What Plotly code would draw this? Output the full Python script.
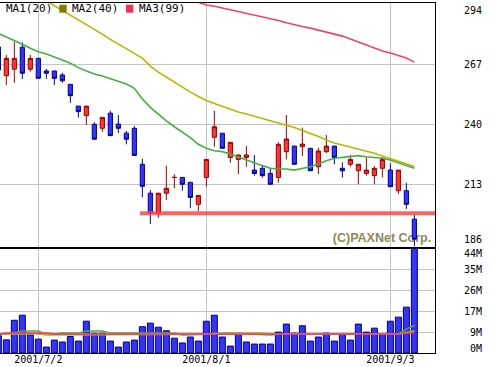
import pandas as pd
import plotly.graph_objects as go

# ---------------- data ----------------
holidays = ["2001-07-20"]
days = [d for d in pd.bdate_range("2001-06-25", "2001-09-06")
        if d.strftime("%Y-%m-%d") not in holidays]
date_labels = [f"{d.year}/{d.month}/{d.day}" for d in days]
tick_dates = ["2001/7/2", "2001/8/1", "2001/9/3"]

opens = [274.8, 261.9, 264.8, 274.7, 264.8, 269.7, 264.0, 264.0, 262.2, 258.0,
         248.2, 243.9, 240.0, 238.2, 245.0, 240.1, 236.0, 238.2, 222.0, 209.0,
         200.0, 209.0, 216.1, 216.1, 213.9, 204.0, 216.1, 234.2, 236.0, 225.1,
         224.2, 225.1, 219.4, 220.2, 217.9, 216.1, 227.7, 230.2, 229.9, 229.2,
         220.9, 227.7, 230.2, 220.2, 222.0, 219.1, 217.9, 216.9, 220.2, 219.4,
         210.1, 210.1, 197.3]
highs = [276.0, 271.2, 277.2, 276.9, 271.2, 269.7, 264.9, 264.0, 263.2, 258.0,
         248.2, 248.2, 240.9, 243.1, 246.1, 244.2, 237.0, 239.2, 224.4, 210.4,
         209.0, 221.4, 217.5, 216.1, 213.9, 208.0, 224.2, 246.1, 236.0, 231.9,
         226.2, 230.2, 226.2, 221.2, 220.2, 231.9, 244.2, 230.2, 238.5, 229.2,
         229.5, 235.2, 230.2, 222.9, 226.2, 222.0, 225.1, 221.2, 225.4, 222.4,
         219.4, 213.7, 199.2]
lows = [263.0, 257.7, 258.7, 260.4, 263.7, 260.7, 260.4, 257.7, 258.7, 249.7,
        243.0, 239.7, 233.3, 236.7, 234.9, 236.0, 231.0, 226.0, 207.1, 195.1,
        198.0, 205.9, 211.2, 210.1, 202.2, 201.0, 211.9, 229.9, 229.2, 222.7,
        217.6, 220.9, 216.9, 216.0, 213.0, 213.7, 224.2, 222.0, 225.7, 219.1,
        217.6, 227.0, 222.0, 216.0, 220.9, 213.0, 216.9, 213.0, 216.1, 211.9,
        208.6, 201.9, 185.0]
closes = [264.4, 269.7, 269.7, 263.0, 269.7, 260.7, 263.0, 260.7, 259.6, 252.9,
          245.7, 248.2, 233.3, 243.1, 234.9, 238.2, 233.3, 226.0, 212.1, 200.0,
          209.0, 211.2, 216.1, 213.0, 207.1, 208.0, 224.2, 238.9, 229.2, 231.9,
          226.2, 226.2, 217.9, 216.9, 213.0, 231.0, 233.4, 222.0, 231.1, 219.1,
          228.0, 230.2, 225.1, 219.1, 224.2, 222.0, 219.4, 220.2, 224.2, 211.9,
          219.4, 204.0, 188.3]

volume_m = [7.2, 5.5, 13.7, 15.8, 7.6, 5.8, 2.5, 5.4, 4.6, 6.9,
            5.0, 13.3, 8.3, 8.3, 5.0, 2.5, 4.6, 5.4, 11.0, 12.5,
            10.8, 9.3, 6.2, 4.2, 6.7, 5.0, 13.3, 15.8, 6.7, 2.9,
            8.1, 4.6, 3.75, 3.75, 3.75, 8.75, 12.1, 8.3, 11.4, 5.0,
            6.7, 8.3, 5.0, 8.0, 5.4, 12.1, 8.75, 10.4, 8.0, 13.3,
            15.0, 19.2, 43.75]

ma20 = [280.9, 279.3, 277.9, 276.0, 274.2, 272.7, 271.6, 270.4, 268.9, 267.45,
        265.5, 264.0, 262.6, 261.7, 260.5, 259.35, 258.1, 256.2, 251.4, 247.65,
        244.5, 241.5, 238.9, 236.4, 234.0, 231.0, 229.2, 228.1, 227.7, 226.6,
        225.4, 223.9, 222.7, 221.4, 220.2, 219.9, 219.9, 219.4, 220.2, 220.9,
        222.1, 223.6, 224.7, 225.1, 225.7, 225.9, 225.4, 225.1, 224.7, 223.9,
        222.7, 221.7, 220.2]
ma40 = [None] * 6 + [295.5, 293.4, 291.2, 289.0,
        286.9, 284.9, 282.9, 280.6, 278.2, 276.1, 273.9, 271.9, 269.8, 266.2,
        263.5, 261.3, 259.0, 256.8, 254.5, 252.5, 250.7, 249.4, 248.0, 246.75,
        245.5, 244.6, 243.7, 242.6, 241.6, 240.6, 239.7, 238.6, 237.2, 236.0,
        234.5, 232.9, 231.6, 230.7, 229.8, 228.7, 227.8, 227.0, 225.7, 224.6,
        223.5, 222.4, 221.0]
ma99 = [None] * 25 + [294.9, 293.7, 293.1, 292.3, 291.6, 290.8, 290.1, 289.3,
        288.6, 287.7, 286.7, 285.7, 284.7, 284.0, 283.3, 282.5, 281.5, 280.6,
        279.7, 278.4, 277.0, 275.55, 274.3, 273.0, 272.1, 271.1, 269.8, 268.0]

vma20 = [7.9, 7.9, 8.5, 9.2, 9.2, 9.2, 7.9, 7.9, 8.3, 8.3,
         8.3, 9.2, 9.2, 9.2, 8.3, 8.3, 8.3, 8.3, 8.3, 8.3,
         8.3, 8.3, 8.3, 7.6, 7.6, 7.6, 7.9, 8.1, 8.3, 8.3,
         8.3, 7.9, 7.9, 7.6, 7.6, 7.9, 7.9, 7.9, 7.9, 7.9,
         7.6, 7.6, 7.6, 7.6, 7.6, 7.6, 7.6, 7.6, 7.6, 7.9,
         7.9, 10.0, 11.5]
vma40 = [8.0] * 6 + [7.6] * 5 + [7.9] * 16 + [8.1] * 4 + [8.3] * 3 + [7.9] * 17 + [8.6, 9.3]
vma99 = [7.8] + [8.3] * 6 + [7.9] * 20 + [8.1] * 4 + [7.8] * 9 + [7.9] * 11 + [8.3, 8.6]

support_level = 200.0
support_start = 17.7

price_ticks = [294, 267, 240, 213, 186]
volume_ticks = [0, 8.75, 17.5, 26.25, 35, 43.75]
volume_tick_text = ["0M", "9M", "17M", "26M", "35M", "44M"]

ma_names = ["MA1(20)", "MA2(40)", "MA3(99)"]
ma_line_colors = ["#44b044", "#b8b800", "#ee4466"]
ma_key_colors = ["#33aa33", "#808000", "#ee3355"]

# ---------------- layout geometry ----------------
W, H = 490, 367
T, B = 3, 14
PH = H - T - B
plot_right = 435
price_bottom_px = 246.5
vol_top_px = 248.5
x_dom = [0, plot_right / W]
price_dom = [(H - B - price_bottom_px) / PH, 1]
vol_dom = [0, (H - B - vol_top_px) / PH]
price_range = [185.0, 294.6]
vol_range = [0, 43.75]
x_range = [0.209, 54.58]
label_axis_pos = 463 / W

x = list(range(len(days)))
tickpos = [date_labels.index(t) for t in tick_dates]


def clamp_labels(vals, rng, dom, pad_px):
    span_px = (dom[1] - dom[0]) * PH
    ppu = span_px / (rng[1] - rng[0])
    pad = pad_px / ppu
    return [min(max(v, rng[0] + pad), rng[1] - pad) for v in vals]


def right_align(texts):
    n = max(len(t) for t in texts)
    return ["\u00a0" * (n - len(t)) + t for t in texts]


font_ax = dict(family="DejaVu Sans Mono", size=10, color="black")
grid = "#c4c4c4"

fig = go.Figure()

fig.add_trace(go.Candlestick(
    x=x, open=opens, high=highs, low=lows, close=closes,
    xaxis="x", yaxis="y",
    increasing=dict(line=dict(color="#a00000", width=1), fillcolor="#ff3333"),
    decreasing=dict(line=dict(color="#00009a", width=1), fillcolor="#3333ff"),
    whiskerwidth=0, showlegend=False, hoverinfo="skip",
))

for vals, col in zip([ma20, ma40, ma99], ma_line_colors):
    fig.add_trace(go.Scatter(x=x, y=vals, mode="lines", xaxis="x", yaxis="y",
                             line=dict(color=col, width=1.6), showlegend=False,
                             hoverinfo="skip", connectgaps=False))

fig.add_trace(go.Scatter(x=[support_start, x_range[1]], y=[support_level, support_level],
                         mode="lines", xaxis="x", yaxis="y",
                         line=dict(color="rgba(255,70,70,0.85)", width=4),
                         showlegend=False, hoverinfo="skip"))

fig.add_trace(go.Bar(x=x, y=volume_m, xaxis="x2", yaxis="y2", width=0.75,
                     marker=dict(color="#3333ff", line=dict(color="#000080", width=1)),
                     showlegend=False, hoverinfo="skip"))

for vals, col in zip([vma20, vma40, vma99], ma_line_colors):
    fig.add_trace(go.Scatter(x=x, y=vals, mode="lines", xaxis="x2", yaxis="y2",
                             line=dict(color=col, width=1.6), showlegend=False,
                             hoverinfo="skip"))

# invisible carriers so the label axes are drawn
fig.add_trace(go.Scatter(x=[None], y=[None], xaxis="x", yaxis="y3", showlegend=False,
                         hoverinfo="skip"))
fig.add_trace(go.Scatter(x=[None], y=[None], xaxis="x2", yaxis="y4", showlegend=False,
                         hoverinfo="skip"))

common_x = dict(domain=x_dom, range=x_range, tickvals=tickpos,
                ticktext=[date_labels[p] for p in tickpos],
                showgrid=True, gridcolor=grid, gridwidth=1, zeroline=False,
                showline=True, linecolor="black", linewidth=1, mirror=True,
                ticks="", tickfont=font_ax, fixedrange=True)

price_lbl_pos = clamp_labels(price_ticks, price_range, price_dom, 7)
vol_lbl_pos = clamp_labels(volume_ticks, vol_range, vol_dom, 5)

fig.update_layout(
    width=W, height=H,
    margin=dict(l=0, r=0, t=T, b=B, pad=0),
    paper_bgcolor="white", plot_bgcolor="white",
    hovermode=False, boxgap=0.25, bargap=0.25,
    showlegend=False,
    xaxis=dict(common_x, anchor="y", showticklabels=False,
               rangeslider=dict(visible=False)),
    xaxis2=dict(common_x, anchor="y2", matches="x", showticklabels=True,
                ticklabelstandoff=-3),
    yaxis=dict(domain=price_dom, range=price_range, side="right", anchor="x",
               tickvals=price_ticks[1:-1], showticklabels=False, showgrid=True,
               gridcolor=grid, zeroline=False, showline=True, linecolor="black",
               mirror=False, ticks="", fixedrange=True),
    yaxis2=dict(domain=vol_dom, range=vol_range, side="right", anchor="x2",
                tickvals=volume_ticks[1:], showticklabels=False, showgrid=True,
                gridcolor=grid, zeroline=False, showline=True, linecolor="black",
                mirror=False, ticks="", fixedrange=True),
    yaxis3=dict(overlaying="y", anchor="free", position=label_axis_pos, side="right",
                range=price_range, tickvals=price_lbl_pos,
                ticktext=right_align([str(v) for v in price_ticks]),
                showgrid=False, showline=False, zeroline=False, ticks="",
                tickfont=font_ax, fixedrange=True),
    yaxis4=dict(overlaying="y2", anchor="free", position=label_axis_pos, side="right",
                range=vol_range, tickvals=vol_lbl_pos,
                ticktext=right_align(volume_tick_text),
                showgrid=False, showline=False, zeroline=False, ticks="",
                tickfont=font_ax, fixedrange=True),
)

# watermark, drawn beneath the traces
fig.add_shape(type="rect", xref="paper", yref="paper",
              x0=330 / W, x1=434 / W,
              y0=(H - B - 243) / PH, y1=(H - B - 229) / PH,
              line=dict(width=0), fillcolor="rgba(0,0,0,0)", layer="between",
              label=dict(text="<b>(C)PAXNet Corp.</b>", textposition="middle center",
                         font=dict(family="Liberation Sans", size=12.5, color="#8c8a58")))

# legend keys
leg_y = (H - B - 8.5) / PH
key_x = [-7.4, 59.3, 126.0]
for name, kx, kc in zip(ma_names, key_x, ma_key_colors):
    fig.add_shape(type="rect", xref="paper", yref="paper",
                  x0=kx / W, x1=(kx + 7.4) / W,
                  y0=(H - B - 12.7) / PH, y1=(H - B - 4.7) / PH,
                  line=dict(width=0), fillcolor=kc, layer="above")
    fig.add_annotation(xref="paper", yref="paper", x=(kx + 11.0) / W, y=leg_y,
                       text=name, showarrow=False, xanchor="left", yanchor="middle",
                       font=dict(family="DejaVu Sans Mono", size=11, color="black"))

fig.write_html("out.html",
               config={"displayModeBar": False, "staticPlot": True},
               post_script="document.body.style.margin='0px';"
                           "document.body.style.overflow='hidden';")
